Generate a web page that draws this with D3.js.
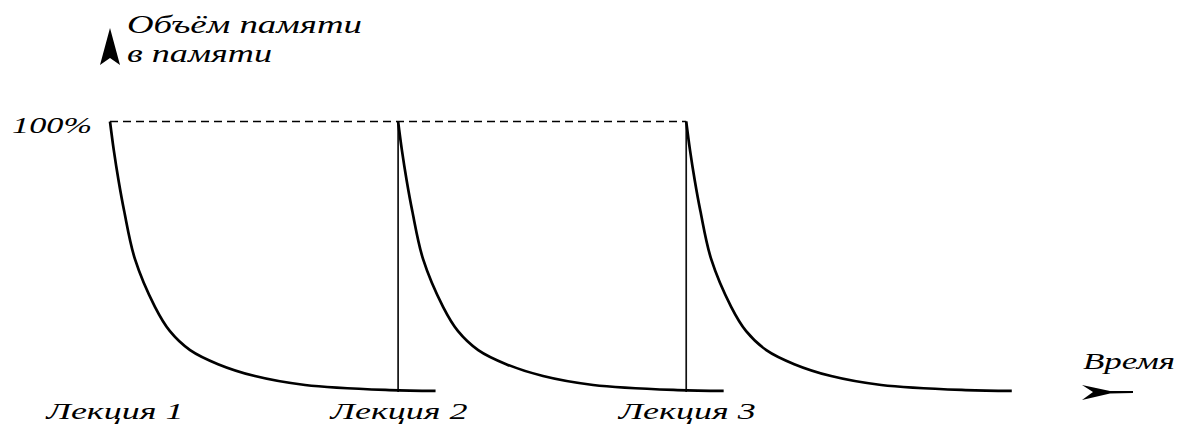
<!DOCTYPE html>
<html>
<head>
<meta charset="utf-8">
<script src="https://cdn.jsdelivr.net/npm/d3@7"></script>
<style>
  body { margin: 0; background: #fff; }
  svg text { font-family: "Liberation Serif", "DejaVu Serif", serif; font-style: italic; fill: #000; }
</style>
</head>
<body>
<svg id="chart" width="1177" height="425"></svg>
<script>
// lectures (time units) and their labels
var lectureTimes = [0, 100, 200];
var lectureLabels = ["Лекция 1", "Лекция 2", "Лекция 3"];
// forgetting curve after one lecture: time since lecture, % retained
var decayT   = [0, 1.3, 3, 4.9, 8.7, 15.6, 20.8, 27.8, 37.5, 50.3, 67.7, 97, 113];
var decayPct = [100, 89.5, 78, 67, 49, 31.5, 22.5, 15.5, 10.3, 5.9, 2.6, 0.7, 0.4];
var yLabel = ["Объём памяти", "в памяти"];
var xLabel = "Время";
var topTick = "100%";

var svg = d3.select("#chart");

var x = d3.scaleLinear().domain([0, 370]).range([110, 1176]);
var y = d3.scaleLinear().domain([0, 100]).range([392, 121.5]);

var line = d3.line()
    .x(function(d){ return x(d[0]); })
    .y(function(d){ return y(d[1]); })
    .curve(d3.curveCatmullRom.alpha(0.5));

// dashed 100% level
svg.append("line")
    .attr("x1", x(lectureTimes[0])).attr("x2", x(lectureTimes[lectureTimes.length - 1]))
    .attr("y1", y(100)).attr("y2", y(100))
    .attr("stroke", "#000").attr("stroke-width", 1.3)
    .attr("stroke-dasharray", "8,5");

// vertical lines at later lectures
svg.selectAll(".vline")
    .data(lectureTimes.slice(1))
    .enter().append("line")
    .attr("class", "vline")
    .attr("x1", function(d){ return x(d); }).attr("x2", function(d){ return x(d); })
    .attr("y1", y(100)).attr("y2", y(0))
    .attr("stroke", "#111").attr("stroke-width", 1.7);

// forgetting curves
svg.selectAll(".curve")
    .data(lectureTimes)
    .enter().append("path")
    .attr("class", "curve")
    .attr("fill", "none")
    .attr("stroke", "#000")
    .attr("stroke-width", 2.7)
    .attr("d", function(t){
        var pts = decayT.map(function(dt, i){ return [t + dt, decayPct[i]]; });
        return line(pts);
    });

// lecture labels
svg.selectAll(".lbl")
    .data(lectureTimes)
    .enter().append("text")
    .attr("class", "lbl")
    .attr("x", function(d){ return x(d) + (d == 0 ? 5 : 1); })
    .attr("y", 419)
    .attr("text-anchor", "middle")
    .attr("font-size", 23)
    .attr("textLength", 137)
    .attr("lengthAdjust", "spacingAndGlyphs")
    .text(function(d, i){ return lectureLabels[i]; });

// 100% label
svg.append("text")
    .attr("x", 12).attr("y", 133)
    .attr("font-size", 23)
    .attr("textLength", 80).attr("lengthAdjust", "spacingAndGlyphs")
    .text(topTick);

// y axis arrow head
var ax = x(0);
svg.append("path")
    .attr("d", "M" + ax + ",28 L" + (ax + 10) + ",65 L" + ax + ",58 L" + (ax - 10) + ",65 Z")
    .attr("fill", "#000");

svg.append("text")
    .attr("x", 127).attr("y", 33)
    .attr("font-size", 25)
    .attr("textLength", 235).attr("lengthAdjust", "spacingAndGlyphs")
    .text(yLabel[0]);
svg.append("text")
    .attr("x", 127).attr("y", 62)
    .attr("font-size", 25)
    .attr("textLength", 145).attr("lengthAdjust", "spacingAndGlyphs")
    .text(yLabel[1]);

// time arrow
var ty = y(0);
svg.append("path")
    .attr("d", "M1082," + (ty - 7) + " L1093," + ty + " L1082," + (ty + 8) +
               " L1110," + (ty + 1.5) + " L1133," + (ty + 1) + " L1133," + (ty - 1) + " L1110," + (ty - 1) + " Z")
    .attr("fill", "#000");

svg.append("text")
    .attr("x", 1083).attr("y", 369)
    .attr("font-size", 24)
    .attr("textLength", 92).attr("lengthAdjust", "spacingAndGlyphs")
    .text(xLabel);
</script>
</body>
</html>
